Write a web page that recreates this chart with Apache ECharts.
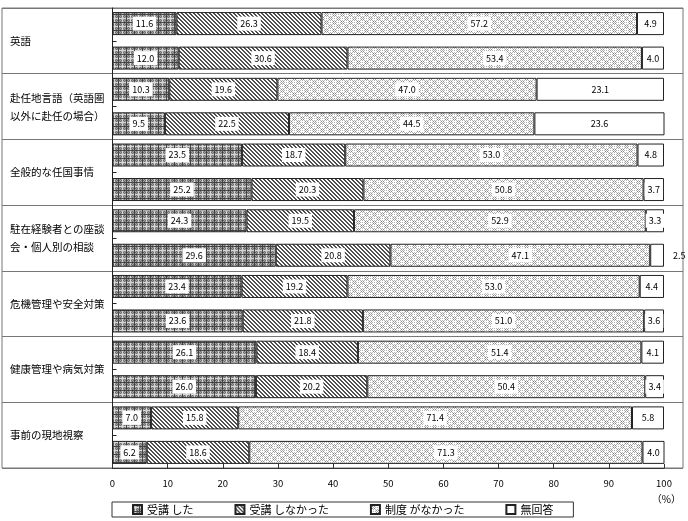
<!DOCTYPE html>
<html><head><meta charset="utf-8">
<script src="https://cdn.jsdelivr.net/npm/echarts@6/dist/echarts.min.js"></script>
<style>html,body{margin:0;padding:0;background:#fff}#c{width:688px;height:521px}</style>
</head><body><div id="c"></div>
<script>
const categories = ['英語','赴任地言語（英語圏\n以外に赴任の場合）','全般的な任国事情','駐在経験者との座談\n会・個人別の相談','危機管理や安全対策','健康管理や病気対策','事前の現地視察'];
const seriesNames = ['受講 した','受講 しなかった','制度 がなかった','無回答'];
// upper bar of each pair
const attendedA    = [11.6, 10.3, 23.5, 24.3, 23.4, 26.1, 7.0];
const notAttendedA = [26.3, 19.6, 18.7, 19.5, 19.2, 18.4, 15.8];
const noSystemA    = [57.2, 47.0, 53.0, 52.9, 53.0, 51.4, 71.4];
const noAnswerA    = [4.9, 23.1, 4.8, 3.3, 4.4, 4.1, 5.8];
// lower bar of each pair
const attendedB    = [12.0, 9.5, 25.2, 29.6, 23.6, 26.0, 6.2];
const notAttendedB = [30.6, 22.5, 20.3, 20.8, 21.8, 20.2, 18.6];
const noSystemB    = [53.4, 44.5, 50.8, 47.1, 51.0, 50.4, 71.3];
const noAnswerB    = [4.0, 23.6, 3.7, 2.5, 3.6, 3.4, 4.0];
const xTickValues  = [0, 10, 20, 30, 40, 50, 60, 70, 80, 90, 100];

const FONT = "'Noto Sans CJK JP', sans-serif";

function makePattern(n, draw) {
  const c = document.createElement('canvas');
  c.width = n; c.height = n;
  const g = c.getContext('2d');
  draw(g, n);
  return { image: c, repeat: 'repeat' };
}
const patPlaid = makePattern(8, (g, n) => {
  g.fillStyle = '#6e6e6e'; g.fillRect(0, 0, n, n);
  for (let x = 0; x < n; x++) for (let y = 0; y < n; y++) {
    if ((x + y) % 2 === 0) { g.fillStyle = '#a0a0a0'; g.fillRect(x, y, 1, 1); }
  }
  g.fillStyle = '#d8d8d8';
  g.fillRect(2, 0, 1, n); g.fillRect(0, 2, n, 1);
  g.fillStyle = '#444';
  g.fillRect(6, 0, 1, n); g.fillRect(0, 6, n, 1);
});
const patHatch = makePattern(4, (g, n) => {
  g.fillStyle = '#fff'; g.fillRect(0, 0, n, n);
  g.fillStyle = '#505050';
  for (let i = 0; i < n; i++) { g.fillRect(i, i, 1, 1); g.fillRect((i + 1) % n, i, 1, 1); }
});
const patDots = makePattern(8, (g, n) => {
  g.fillStyle = '#fff'; g.fillRect(0, 0, n, n);
  for (let x = 0; x < n; x++) for (let y = 0; y < n; y++) {
    if (x % 2 === 0 && y % 2 === 0) { g.fillStyle = '#b4b4b4'; g.fillRect(x, y, 1, 1); }
    if (((Math.floor(x / 4) + Math.floor(y / 4)) % 2 === 0) && x % 2 === 1 && y % 2 === 1) { g.fillStyle = '#8a8a8a'; g.fillRect(x, y, 1, 1); }
  }
});
const patterns = [patPlaid, patHatch, patDots, '#ffffff'];

const stacks = [
  { key: 'A', data: [attendedA, notAttendedA, noSystemA, noAnswerA] },
  { key: 'B', data: [attendedB, notAttendedB, noSystemB, noAnswerB] }
];

const series = [];
stacks.forEach(st => {
  st.data.forEach((vals, i) => {
    series.push({
      type: 'bar', name: seriesNames[i], stack: st.key,
      xAxisIndex: 1, yAxisIndex: 1,
      barWidth: 23, barGap: '50%',
      itemStyle: { color: patterns[i], borderColor: '#222', borderWidth: 1 },
      label: {
        show: true, position: 'inside', fontSize: 9, color: '#000', fontFamily: FONT,
        backgroundColor: '#fff', padding: [3, 3, 2, 3],
        formatter: p => p.value.toFixed(1)
      },
      data: vals.map(v => v < 3 ? { value: v, label: { position: 'right', distance: 6, backgroundColor: 'transparent' } } : v)
    });
  });
});

const chart = echarts.init(document.getElementById('c'), null, { renderer: 'canvas' });
chart.setOption({
  animation: false,
  backgroundColor: '#fff',
  textStyle: { fontFamily: FONT },
  title: { text: '（%）', right: 2, top: 489, textStyle: { fontSize: 10, fontWeight: 'normal', color: '#000', fontFamily: FONT } },
  legend: {
    data: seriesNames, left: 112, top: 502, icon: 'rect', itemWidth: 9, itemHeight: 9, itemGap: 41,
    padding: [2, 20, 2, 20], borderColor: '#333', borderWidth: 1, borderRadius: 0,
    textStyle: { fontSize: 11, color: '#000', fontFamily: FONT }
  },
  grid: [
    { left: 2, right: 5, top: 8, bottom: 53, show: true, borderColor: '#777', borderWidth: 1, containLabel: false },
    { left: 112.5, right: 24, top: 8, bottom: 53, containLabel: false }
  ],
  xAxis: [
    { gridIndex: 0, type: 'value', show: false, min: 0, max: 1 },
    {
      gridIndex: 1, type: 'value', min: xTickValues[0], max: xTickValues[xTickValues.length - 1], interval: xTickValues[1] - xTickValues[0],
      axisLine: { show: true, lineStyle: { color: '#333' } },
      axisTick: { show: true, inside: true, length: 4, lineStyle: { color: '#333' } },
      axisLabel: { fontSize: 9.5, color: '#000', margin: 11, fontFamily: FONT },
      splitLine: { show: false }
    }
  ],
  yAxis: [
    {
      gridIndex: 0, type: 'category', data: categories, inverse: true,
      axisLine: { show: false }, axisTick: { show: false },
      splitLine: { show: true, lineStyle: { color: '#777', width: 1 } },
      axisLabel: { inside: true, align: 'left', margin: 8, fontSize: 10.5, lineHeight: 18, color: '#000', fontFamily: FONT }
    },
    {
      gridIndex: 1, type: 'category', data: categories, inverse: true,
      axisLine: { show: true, lineStyle: { color: '#222' } },
      axisTick: { show: true, inside: true, alignWithLabel: true, length: 4, lineStyle: { color: '#222' } },
      axisLabel: { show: false }, splitLine: { show: false }
    }
  ],
  series: series
});
</script>
</body></html>
